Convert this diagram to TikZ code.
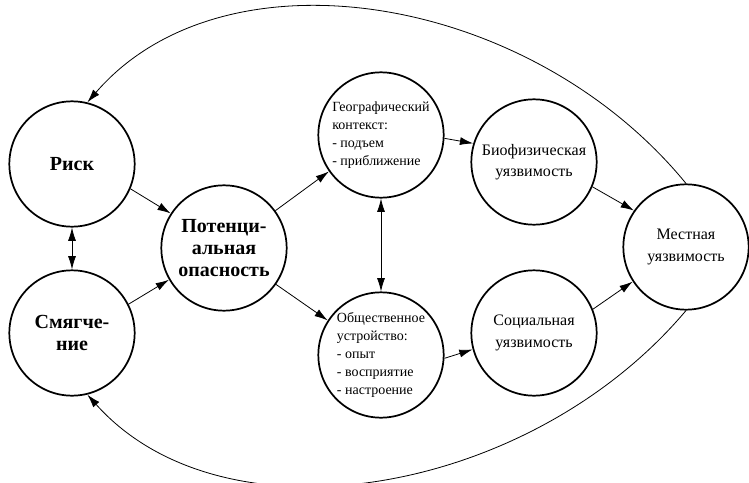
\documentclass[tikz,border=0pt]{standalone}
\usepackage{fontspec}
\setmainfont{Liberation Serif}
\usetikzlibrary{arrows.meta,positioning}

\begin{document}
\begin{tikzpicture}[
  on grid,
  stage/.style={circle, draw, line width=1.3pt, minimum size=94pt, inner sep=0pt, align=center},
  bigtxt/.style={font=\fontsize{15}{16.5}\selectfont\bfseries},
  midtxt/.style={font=\fontsize{12}{16}\selectfont},
  smalltxt/.style={font=\fontsize{10.5}{13.5}\selectfont, align=left},
  link/.style={line width=0.6pt, >={Latex[length=10pt,width=6pt]}}
  ]
  \useasboundingbox (-54pt,-238.5pt) rectangle (507.75pt,123pt);
  \node[stage, bigtxt] (risk) at (0,0) {Риск};
  \node[stage, bigtxt, below=126.75pt of risk] (mitig) {Смягче-\\ние};
  \node[stage, bigtxt, below right=63pt and 114pt of risk] (hazard) {Потенци-\\альная\\опасность};
  \node[stage, smalltxt, above right=84.75pt and 117.75pt of hazard] (geo) {Географический\\контекст:\\- подъем\\- приближение};
  \node[stage, smalltxt, below=165pt of geo] (fabric) {Общественное\\устройство:\\- опыт\\- восприятие\\- настроение};
  \node[stage, midtxt, below right=20.25pt and 114.75pt of geo] (biovul) {Биофизическая\\уязвимость};
  \node[stage, midtxt, above right=16.5pt and 114.75pt of fabric] (socvul) {Социальная\\уязвимость};
  \node[stage, midtxt, below right=63.75pt and 114pt of biovul] (place) {Местная\\уязвимость};

  \draw[link,->] (risk.-23) -- (hazard.147);
  \draw[link,->] (mitig.27) -- (hazard.210);
  \draw[link,<->] (risk.south) -- (mitig.north);
  \draw[link,->] (hazard.36) -- (geo.215);
  \draw[link,->] (hazard.-35) -- (fabric.147);
  \draw[link,<->] (geo.south) -- (fabric.north);
  \draw[link,->] (geo.-3) -- (biovul.163);
  \draw[link,->] (fabric.-3) -- (socvul.195);
  \draw[link,->] (biovul.-23) -- (place.145);
  \draw[link,->] (socvul.22) -- (place.213);
  % feedback loops
  \draw[link,->] (place.north) .. controls +(-117pt,143pt) and +(102.75pt,119pt) .. (risk.76);
  \draw[link,->] (place.south) .. controls +(-117pt,-139pt) and +(102.75pt,-115pt) .. (mitig.-76);
\end{tikzpicture}
\end{document}
